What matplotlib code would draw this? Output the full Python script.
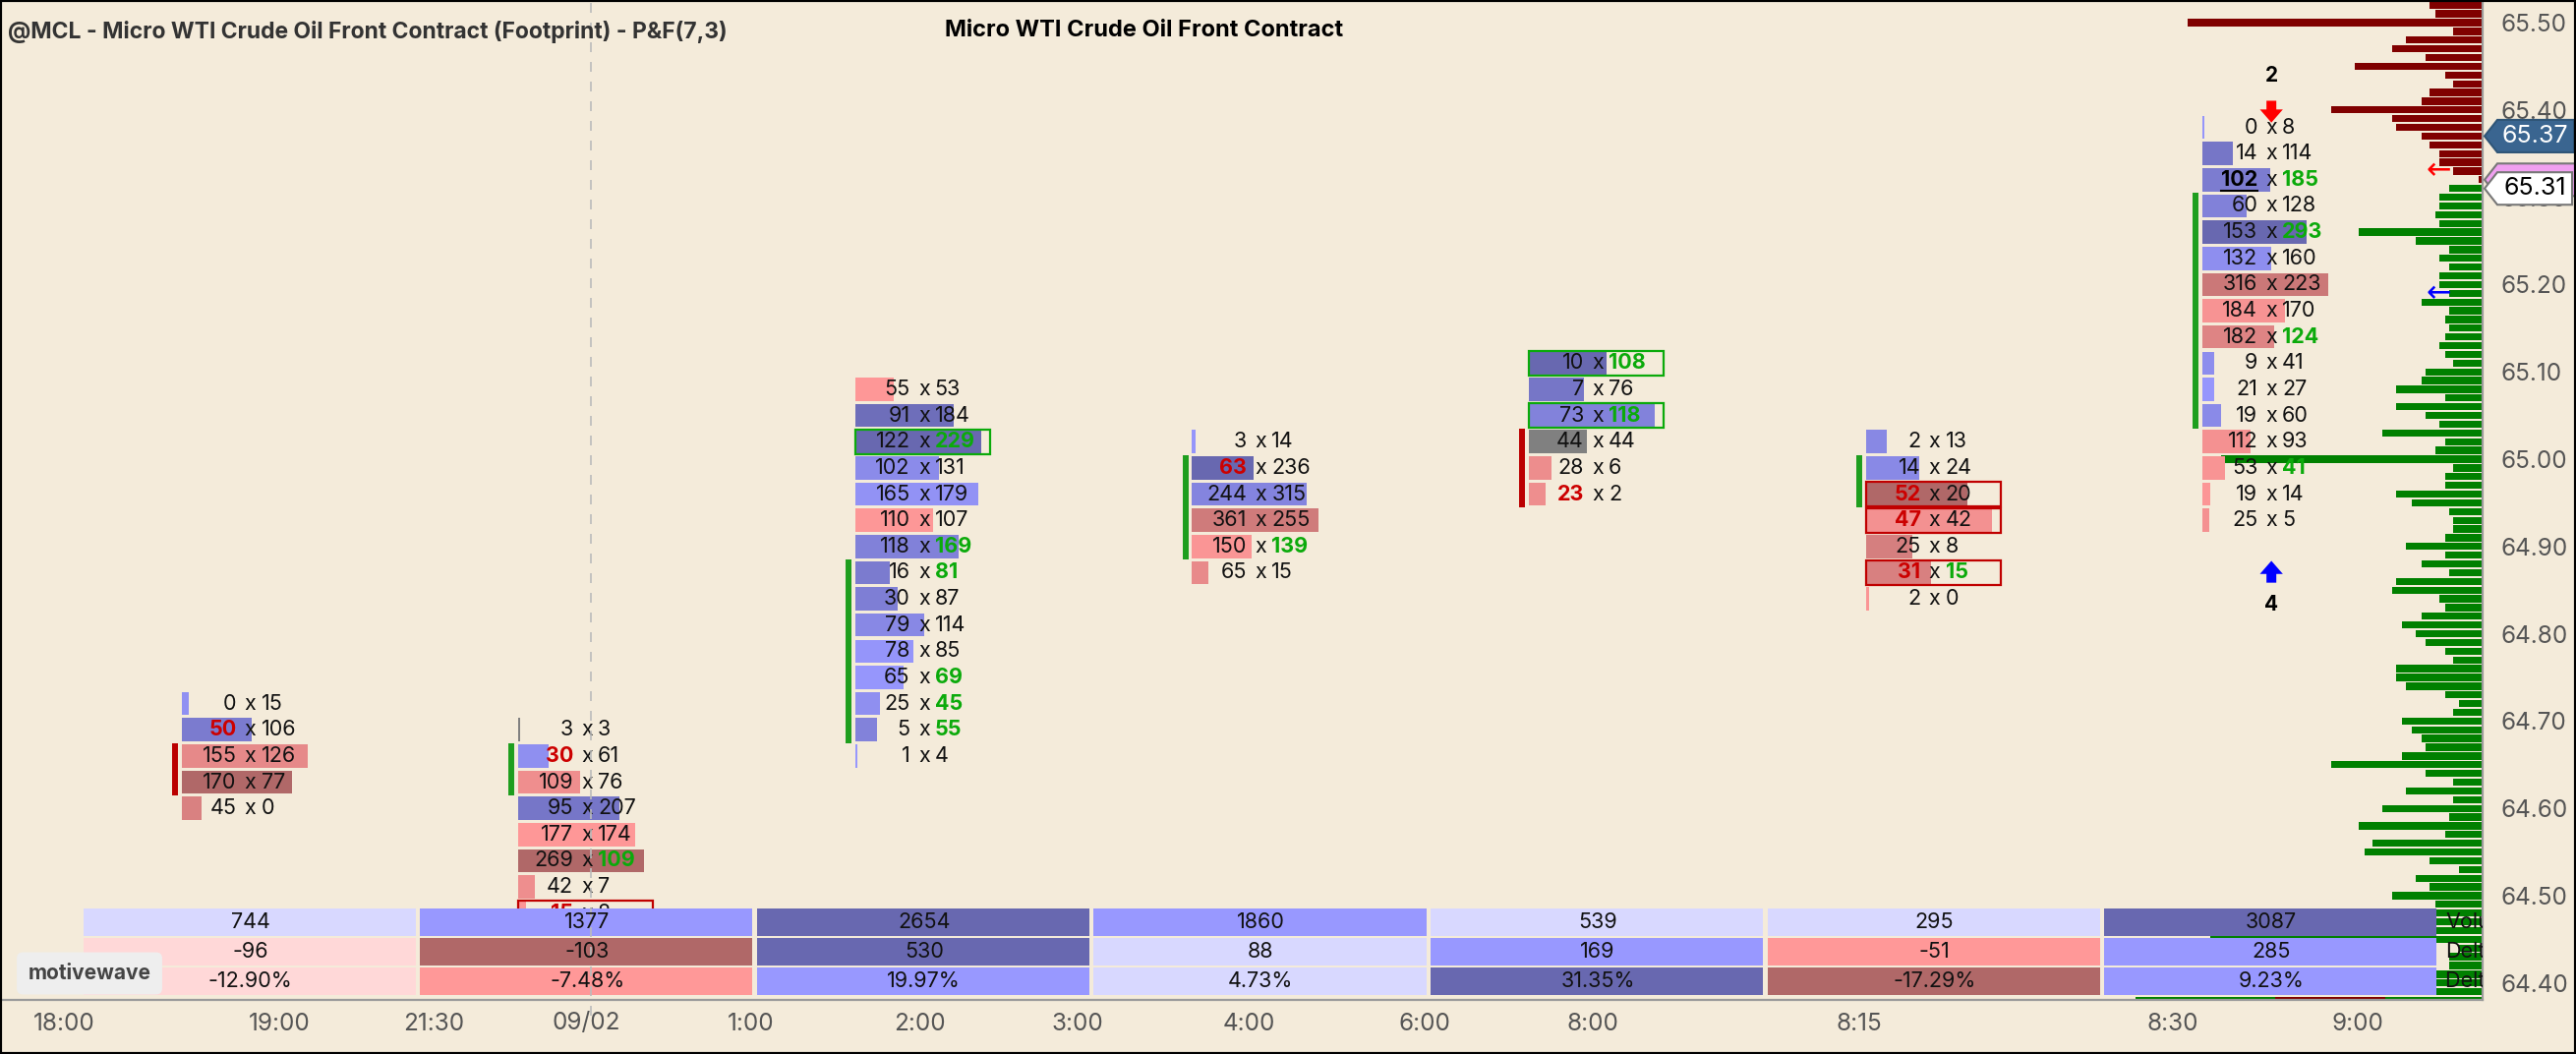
import matplotlib
matplotlib.use("Agg")
import matplotlib.pyplot as plt
import matplotlib.transforms as mtransforms
from matplotlib.patches import Rectangle, Polygon
import numpy as np

plt.rcParams['font.family'] = ['Inter', 'DejaVu Sans']

BG = '#F4EBDA'

# ---- footprint columns (P&F boxes of 0.03), price of the top box in each column
col_tops = [64.72, 64.69, 65.08, 65.02, 65.11, 65.02, 65.38]
bids = [
    [0, 50, 155, 170, 45],
    [3, 30, 109, 95, 177, 269, 42, 15],
    [55, 91, 122, 102, 165, 110, 118, 16, 30, 79, 78, 65, 25, 5, 1],
    [3, 63, 244, 361, 150, 65],
    [10, 7, 73, 44, 28, 23],
    [2, 14, 52, 47, 25, 31, 2],
    [0, 14, 102, 60, 153, 132, 316, 184, 182, 9, 21, 19, 112, 53, 19, 25],
]
asks = [
    [15, 106, 126, 77, 0],
    [3, 61, 76, 207, 174, 109, 7, 8],
    [53, 184, 229, 131, 179, 107, 169, 81, 87, 114, 85, 69, 45, 55, 4],
    [14, 236, 315, 255, 139, 15],
    [108, 76, 118, 44, 6, 2],
    [13, 24, 20, 42, 8, 15, 0],
    [8, 114, 185, 128, 293, 160, 223, 170, 124, 41, 27, 60, 93, 41, 14, 5],
]
# imbalances (col, row)
bid_imb = [(0, 1), (1, 1), (1, 7), (3, 1), (4, 5), (5, 2), (5, 3), (5, 5)]
ask_imb = [(1, 5), (2, 2), (2, 6), (2, 7), (2, 11), (2, 12), (2, 13), (3, 4),
           (4, 0), (4, 2), (5, 5), (6, 2), (6, 4), (6, 8), (6, 13)]
poc_cell = (6, 2)
boxed = {(1, 7): 'bid', (2, 2): 'ask', (4, 0): 'ask', (4, 2): 'ask',
         (5, 2): 'bid', (5, 3): 'bid', (5, 5): 'bid'}
# stacked imbalance markers: col, first row, last row, side
stacks = [(0, 2, 3, 'bid'), (1, 1, 2, 'ask'), (2, 7, 13, 'ask'), (3, 1, 4, 'ask'),
          (4, 3, 5, 'bid'), (5, 1, 2, 'ask'), (6, 3, 11, 'ask')]
box_size = 0.03

# ---- summary table
vol = [744, 1377, 2654, 1860, 539, 295, 3087]
delta = [-96, -103, 530, 88, 169, -51, 285]
delta_pct = [-12.90, -7.48, 19.97, 4.73, 31.35, -17.29, 9.23]
vol_shade = [0, 1, 2, 1, 0, 0, 2]
delta_shade = [0, 2, 2, 0, 1, 1, 1]
pct_shade = [0, 1, 1, 0, 2, 2, 1]
row_names = ['Volume', 'Delta', 'Delta %']

# ---- time axis
time_labels = ['18:00', '19:00', '21:30', '09/02', '1:00', '2:00', '3:00', '4:00',
               '6:00', '8:00', '8:15', '8:30', '9:00']
time_pos = [-0.35, 0.29, 0.75, 1.20, 1.69, 2.19, 2.66, 3.17, 3.69, 4.19, 4.98, 5.91, 6.46]
day_break = 1.215

# ---- volume profile (one bar per 0.01 tick, from top down)
profile_top = 65.52
profile_vol = [54, 48, 300, 30, 78, 92, 58, 130, 38, 30, 54, 62, 154, 92, 88, 62, 54, 44, 44, 30, 4,
               34, 44, 44, 48, 44, 126, 68, 34, 44, 34, 44, 44, 34, 62, 34, 38, 34, 38, 44, 38, 30,
               58, 62, 88, 38, 88, 58, 44, 102, 38, 48, 266, 30, 38, 38, 88, 72, 34, 30, 30, 38,
               78, 38, 62, 34, 88, 92, 44, 38, 62, 82, 68, 58, 38, 30, 88, 88, 78, 38, 24, 30,
               82, 72, 62, 58, 82, 154, 58, 30, 78, 30, 102, 34, 126, 38, 112, 120, 54, 24, 68,
               54, 92, 48, 60, 55, 50, 277, 24, 34, 34, 70, 70, 60, 353]
last_price = 65.31
high_mark = 65.37
vwap_mark = 65.32

signals = [(6, 'down', 65.398, '2'), (6, 'up', 64.871, '4')]
arrows_small = [(65.33, 'red'), (65.19, 'blue')]

title = '@MCL - Micro WTI Crude Oil Front Contract (Footprint) - P&F(7,3)'
subtitle = 'Micro WTI Crude Oil Front Contract'

# ---------------------------------------------------------------
BLUE_L, BLUE_D = np.array([152, 152, 255]), np.array([104, 104, 176])
RED_L, RED_D = np.array([255, 152, 152]), np.array([176, 104, 104])
TABLE_BLUE = ['#D8D8FF', '#9898FF', '#6868B0']
TABLE_RED = ['#FFD8D8', '#FF9898', '#B06868']
GREEN_TXT, RED_TXT = '#0BAA0B', '#CC0000'


def shade(d, dmax):
    if d == 0:
        return '#808080'
    t = abs(d) / dmax
    lo, hi = (BLUE_L, BLUE_D) if d > 0 else (RED_L, RED_D)
    return tuple((lo + (hi - lo) * t) / 255)


fig = plt.figure(figsize=(26.2, 10.72), dpi=100, facecolor=BG)
ax = fig.add_axes([0, 55 / 1072, 2525 / 2620, 1017 / 1072])
ax.set_xlim(-0.539, 6.831)
ax.set_ylim(64.3806, 65.5259)

# profile behind everything
prof = ax.twiny()
prof.set_zorder(ax.get_zorder() - 1)
ax.patch.set_visible(False)
prof.patch.set_visible(True)
prof.set_facecolor(BG)
prof_prices = profile_top - 0.01 * np.arange(len(profile_vol))
prof_colors = ['#800000' if p > last_price + 0.005 else '#008000' for p in prof_prices]
prof.barh(prof_prices, profile_vol, height=0.0082, color=prof_colors)
# overlapping pieces at the last visible tick
prof.barh([prof_prices[-1]], [211], height=0.0082, color='#800000')
prof.barh([prof_prices[-1]], [99], height=0.0082, color='#008000')
prof.set_xlim(max(profile_vol) * 7.15, 0)
prof.xaxis.set_visible(False)
for s in prof.spines.values():
    s.set_visible(False)

BAR_MAX = 0.374
TXT_OFF = 0.204
for c, (top, b, a) in enumerate(zip(col_tops, bids, asks)):
    b = np.array(b)
    a = np.array(a)
    prices = top - box_size * np.arange(len(b))
    tot = b + a
    d = a - b
    dmax = np.abs(d).max()
    widths = tot / tot.max() * BAR_MAX
    ax.barh(prices, widths, left=c, height=0.0265,
            color=[shade(v, dmax) for v in d], zorder=2)
    for r, p in enumerate(prices):
        bkw = dict(color='#111', fontweight='normal')
        akw = dict(color='#111', fontweight='normal')
        if (c, r) in bid_imb:
            bkw = dict(color=RED_TXT, fontweight='bold')
        if (c, r) in ask_imb:
            akw = dict(color=GREEN_TXT, fontweight='bold')
        if (c, r) == poc_cell:
            bkw = dict(color='#000', fontweight='bold')
        bt = ax.text(c + TXT_OFF - 0.041, p, str(b[r]), ha='right', va='center',
                     fontsize=15.5, zorder=4, **bkw)
        ax.text(c + TXT_OFF, p, 'x', ha='center', va='center', fontsize=15.5,
                color='#111', zorder=4)
        ax.text(c + TXT_OFF + 0.032, p, str(a[r]), ha='left', va='center',
                fontsize=15.5, zorder=4, **akw)
        if (c, r) == poc_cell:
            poc_text, poc_price = bt, p
        if (c, r) in boxed:
            ec = GREEN_TXT if boxed[(c, r)] == 'ask' else '#C00000'
            ax.add_patch(Rectangle((c, p - 0.0142), 0.40, 0.0284, fill=False,
                                   ec=ec, lw=1.6, zorder=3))

for c, r0, r1, side in stacks:
    top = col_tops[c]
    ax.vlines(c - 0.02, top - box_size * (r1 + 0.5), top - box_size * (r0 - 0.5),
              color='#1E9E1E' if side == 'ask' else '#BB0000', lw=4.3, zorder=3)

# signals
for c, direction, p, label in signals:
    x = c + TXT_OFF
    if direction == 'down':
        tail, tip, ly, col = p + 0.0125, p - 0.0125, p + 0.041, '#FF0000'
    else:
        tail, tip, ly, col = p - 0.0125, p + 0.0125, p - 0.038, '#0000FF'
    ax.annotate('', xy=(x, tip), xytext=(x, tail),
                arrowprops=dict(arrowstyle='simple,head_length=0.6,head_width=1.05,tail_width=0.45',
                                fc=col, ec='none', mutation_scale=16, shrinkA=0, shrinkB=0),
                zorder=5)
    ax.text(x, ly, label, ha='center', va='center', fontsize=15, fontweight='bold',
            color='#000', zorder=5)

for p, col in arrows_small:
    ax.text(6.70, p, '\u2190', ha='center', va='center', fontsize=22, color=col,
            family='DejaVu Sans', zorder=5)

# day separator
ax.axvline(day_break, ymin=-0.016, ymax=1, color='#BBBBBB', lw=1.2,
           ls=(0, (6, 6)), zorder=6, clip_on=False)

# summary table
tb = mtransforms.blended_transform_factory(ax.transData, ax.transAxes)
row_y = [(0.0639, 0.0275), (0.0344, 0.0275), (0.0049, 0.0275)]
table_rows = [
    (vol, vol_shade, [str(v) for v in vol]),
    (delta, delta_shade, [str(v) for v in delta]),
    (delta_pct, pct_shade, ['%.2f%%' % v for v in delta_pct]),
]
for (y0, h), (vals, shades, texts) in zip(row_y, table_rows):
    for c, (v, s, t) in enumerate(zip(vals, shades, texts)):
        fc = TABLE_BLUE[s] if v >= 0 else TABLE_RED[s]
        ax.add_patch(Rectangle((c - 0.292, y0), 0.987, h, transform=tb, fc=fc,
                               ec='none', zorder=5))
        ax.text(c + TXT_OFF, y0 + h / 2, t, transform=tb, ha='center', va='center',
                fontsize=15.5, color='#111', zorder=6)
for (y0, h), name in zip(row_y, row_names):
    ax.text(6.72, y0 + h / 2, name, transform=tb, ha='left', va='center',
            fontsize=15.5, color='#111', zorder=6, clip_on=True)

# axes styling
for k in ['top', 'left']:
    ax.spines[k].set_visible(False)
for k in ['right', 'bottom']:
    ax.spines[k].set_color('#9A9A9A')
    ax.spines[k].set_linewidth(1.6)
ax.yaxis.tick_right()
price_ticks = np.round(np.arange(64.40, 65.505, 0.1), 2)
ax.set_yticks(price_ticks)
ax.set_yticklabels(['%.2f' % v for v in price_ticks])
ax.tick_params(axis='y', length=0, pad=13, labelsize=17.5, labelcolor='#555555')
ax.set_xticks(time_pos)
ax.set_xticklabels(time_labels)
ax.tick_params(axis='x', length=0, pad=9, labelsize=17.5, labelcolor='#555555')

# price badges on the axis
bt_fig = mtransforms.blended_transform_factory(fig.transFigure, ax.transData)
W = 2620.0


def badge(price, fc, ec, txt=None, tc='#000', x_right=2616):
    h = 0.0186
    pts = [(2527 / W, price), (2540 / W, price + h), (x_right / W, price + h),
           (x_right / W, price - h), (2540 / W, price - h)]
    fig.add_artist(Polygon(pts, closed=True, transform=bt_fig, fc=fc, ec=ec, lw=1.5,
                           clip_on=False))
    if txt:
        fig.text(2578 / W, price, txt, transform=bt_fig, ha='center', va='center',
                 fontsize=18, color=tc)


badge(vwap_mark, '#F0A0F0', '#777777', x_right=2625)
badge(last_price, '#FFFFFF', '#777777', '%.2f' % last_price, '#000000')
badge(high_mark, '#3A6590', '#2F5577', '%.2f' % high_mark, '#FFFFFF', x_right=2618)

fig.canvas.draw()
bb = poc_text.get_window_extent().transformed(ax.transData.inverted())
ax.plot([bb.x0, bb.x1], [poc_price - 0.0125] * 2, color='#000', lw=1.5, zorder=5)

# titles and watermark
fig.text(8 / W, 1 - 32 / 1072, title, ha='left', va='center', fontsize=16.5,
         fontweight='bold', color='#333333')
fig.text(1164 / W, 1 - 31 / 1072, subtitle, ha='center', va='center', fontsize=17,
         fontweight='bold', color='#000000')
fig.text(91 / W, 1 - 990 / 1072, 'motivewave', ha='center', va='center', fontsize=15,
         fontweight='bold', color='#444444',
         bbox=dict(boxstyle='round,pad=0.55,rounding_size=0.3', fc='#EEEEEE', ec='none'))

fig.add_artist(Rectangle((0, 0), 1, 1, transform=fig.transFigure, fill=False,
                         ec='black', lw=3))

fig.savefig('out.png', dpi=100, facecolor=BG)
